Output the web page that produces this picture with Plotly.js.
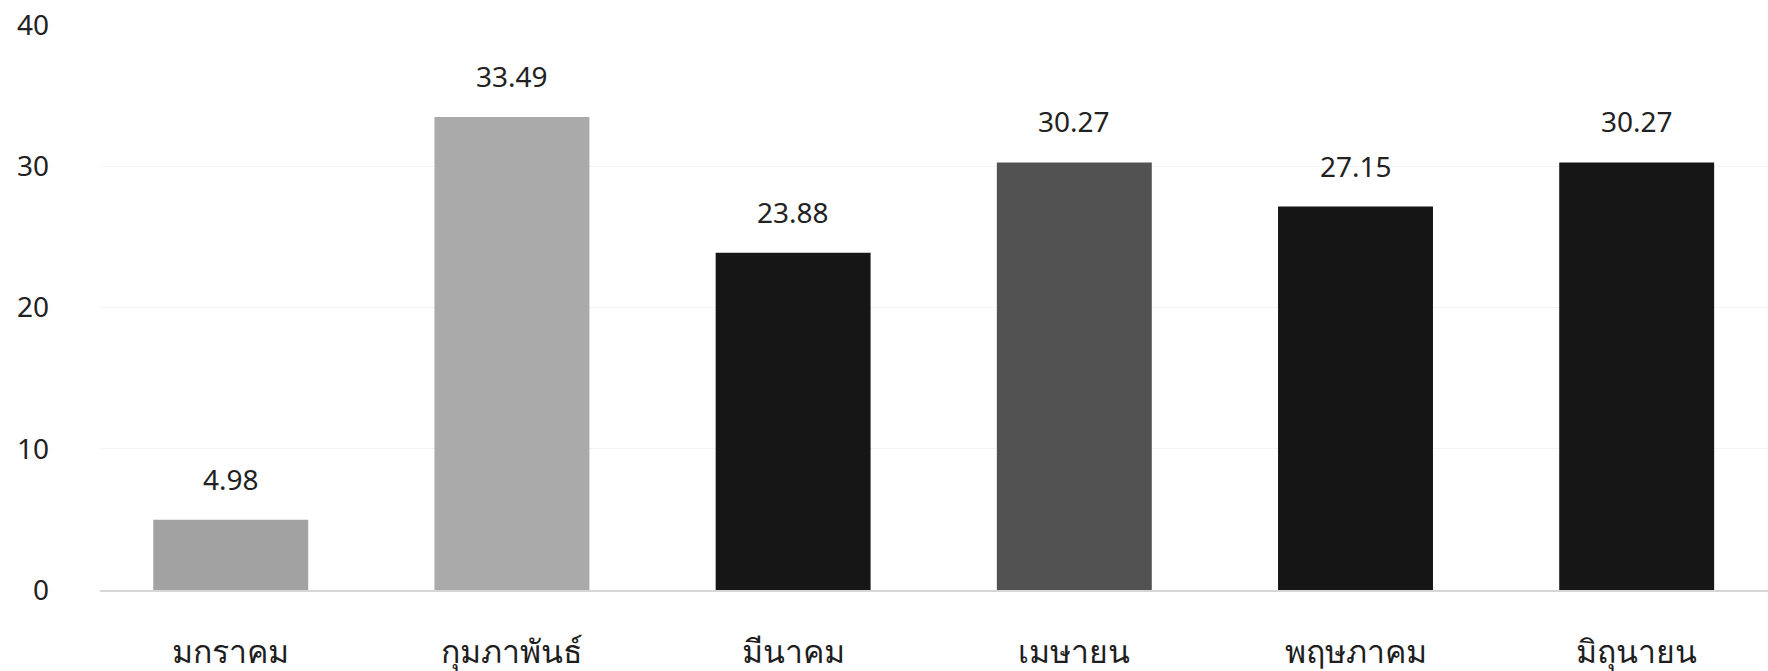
<!DOCTYPE html>
<html>
<head>
<meta charset="utf-8">
<script src="https://cdn.plot.ly/plotly-3.0.1.min.js"></script>
<style>
  html, body { margin: 0; padding: 0; background: #ffffff; }
  #chart { width: 1768px; height: 671px; }
</style>
</head>
<body>
<div id="chart"></div>
<script>
const months = ["มกราคม", "กุมภาพันธ์", "มีนาคม", "เมษายน", "พฤษภาคม", "มิถุนายน"];
const values = [4.98, 33.49, 23.88, 30.27, 27.15, 30.27];
const labels = ["4.98", "33.49", "23.88", "30.27", "27.15", "30.27"];
const barColors = ["#a2a2a2", "#aaaaaa", "#161616", "#525252", "#151515", "#161616"];
const yTicks = [0, 10, 20, 30, 40];

const FONT = "Noto Sans, Tahoma, sans-serif";

const trace = {
  type: "bar",
  x: months,
  y: values,
  marker: { color: barColors, line: { width: 0 } },
  hoverinfo: "x+y",
  showlegend: false
};

const annotations = months.map((m, i) => ({
  x: m,
  y: values[i],
  xref: "x",
  yref: "y",
  text: labels[i],
  showarrow: false,
  yanchor: "middle",
  yshift: 41,
  font: { family: FONT, size: 28, color: "#222222" }
}));

const layout = {
  width: 1768,
  height: 671,
  paper_bgcolor: "#ffffff",
  plot_bgcolor: "#ffffff",
  margin: { l: 100, r: 0, t: 25, b: 81 },
  bargap: 0.449,
  xaxis: {
    type: "category",
    range: [-0.465, 5.467],
    showgrid: false,
    zeroline: false,
    showline: true,
    linecolor: "#d6d6d6",
    linewidth: 2,
    ticks: "",
    ticklabelstandoff: 33,
    tickfont: { family: FONT, size: 32, color: "#1e1e1e" },
    fixedrange: true
  },
  yaxis: {
    range: [0, 40],
    tickvals: yTicks,
    ticktext: yTicks.map(String),
    showgrid: true,
    gridcolor: "#f4f4f4",
    gridwidth: 1,
    zeroline: false,
    showline: false,
    ticks: "",
    ticklabelstandoff: 50,
    tickfont: { family: FONT, size: 28, color: "#222222" },
    fixedrange: true
  },
  annotations: annotations
};

Plotly.newPlot("chart", [trace], layout, { displayModeBar: false, staticPlot: true });
</script>
</body>
</html>
